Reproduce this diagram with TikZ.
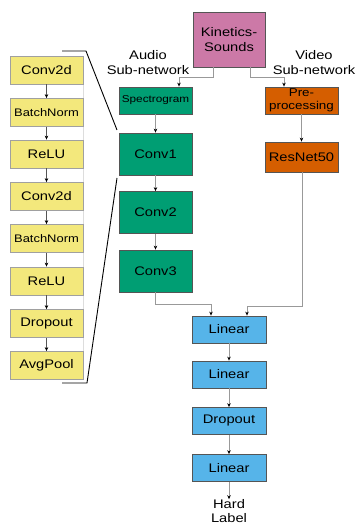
\documentclass[tikz,border=0pt]{standalone}
\usepackage{fontspec}
\setmainfont[FakeStretch=1.18]{Liberation Sans}
\usetikzlibrary{arrows.meta}
\definecolor{kpink}{HTML}{CC79A7}
\definecolor{kgreen}{HTML}{009E73}
\definecolor{korange}{HTML}{D55E00}
\definecolor{kblue}{HTML}{56B4E9}
\definecolor{kyellow}{HTML}{F3E87C}
\definecolor{kborder}{HTML}{555555}
\definecolor{kyborder}{HTML}{A0A0A0}
\definecolor{kline}{HTML}{999999}
\definecolor{kfaint}{HTML}{DDDDDD}
\begin{document}
\begin{tikzpicture}[x=1bp,y=-1bp,
  box/.style={draw=kborder,line width=0.8bp,inner sep=0pt,align=center,font=\fontsize{12.5}{14.5}\selectfont},
  ybox/.style={box,draw=kyborder,fill=kyellow,minimum width=73bp,minimum height=28bp},
  gbox/.style={box,fill=kgreen,minimum width=73bp,minimum height=42bp},
  bbox/.style={box,fill=kblue,minimum width=74bp,minimum height=27bp},
  obox/.style={box,fill=korange,minimum width=73bp},
  conn/.style={draw=kline,line width=0.8bp,-{Stealth[length=4bp,width=3.5bp,black]}},
  lab/.style={align=center,inner sep=0pt,font=\fontsize{12.5}{14.5}\selectfont}]
\useasboundingbox (0,0) rectangle (357,524);
% faint edge of the left column
\draw[kfaint,line width=0.6bp] (83,56) -- (83,379);
% top
\node[box,fill=kpink,minimum width=72bp,minimum height=55bp] (ks) at (229,39.5) {Kinetics-\\Sounds};
\node[lab] (al) at (148,62.5) {Audio\\Sub-network};
\node[lab] (vl) at (314,62.5) {Video\\Sub-network};
% audio
\node[box,fill=kgreen,minimum width=73bp,minimum height=27bp,font=\fontsize{10}{11}\selectfont] (sp) at (155.5,100.5) {Spectrogram};
\node[gbox] (c1) at (155.5,154) {Conv1};
\node[gbox] (c2) at (155.5,212.5) {Conv2};
\node[gbox] (c3) at (155.5,271) {Conv3};
% video
\node[obox,minimum height=27bp,font=\fontsize{11.4}{13}\selectfont] (pp) at (301.5,100.5) {Pre-\\processing};
\node[obox,minimum height=30bp] (rn) at (301.5,157) {ResNet50};
% head
\node[bbox] (l1) at (229,329.5) {Linear};
\node[bbox] (l2) at (229,374.5) {Linear};
\node[bbox] (dr) at (229,421) {Dropout};
\node[bbox] (l3) at (229,468) {Linear};
\node[lab,font=\fontsize{12.5}{14}\selectfont] (hl) at (229,511) {Hard\\Label};
% left column
\node[ybox] (y1) at (46.5,70) {Conv2d};
\node[ybox,font=\fontsize{11}{12}\selectfont] (y2) at (46.5,112.5) {BatchNorm};
\node[ybox] (y3) at (46.5,154) {ReLU};
\node[ybox] (y4) at (46.5,196.5) {Conv2d};
\node[ybox,font=\fontsize{11}{12}\selectfont] (y5) at (46.5,238.5) {BatchNorm};
\node[ybox] (y6) at (46.5,281) {ReLU};
\node[ybox] (y7) at (46.5,323.5) {Dropout};
\node[ybox] (y8) at (46.5,365.5) {AvgPool};
% connectors
\draw[conn] (213,67) |- (179,77) -- (sp.north -| 179,0);
\draw[conn] (250,67) |- (284,77) -- (pp.north -| 284,0);
\draw[conn] (sp) -- (c1);
\draw[conn] (c1) -- (c2);
\draw[conn] (c2) -- (c3);
\draw[conn] (pp) -- (rn);
\draw[conn] (c3.south) |- (211,304) -- (l1.north -| 211,0);
\draw[conn] (rn.south -| 302,0) |- (247,306) -- (l1.north -| 247,0);
\draw[conn] (l1) -- (l2);
\draw[conn] (l2) -- (dr);
\draw[conn] (dr) -- (l3);
\draw[conn] (l3) -- (hl);
\foreach \a/\b in {y1/y2,y2/y3,y3/y4,y4/y5,y5/y6,y6/y7,y7/y8}
  \draw[conn,draw=kborder] (\a) -- (\b);
% bracket
\draw[line width=0.9bp] (62,51) -- (86,51) -- (117,130);
\draw[line width=0.9bp] (62,383) -- (87,383) -- (117,178);
\end{tikzpicture}
\end{document}
